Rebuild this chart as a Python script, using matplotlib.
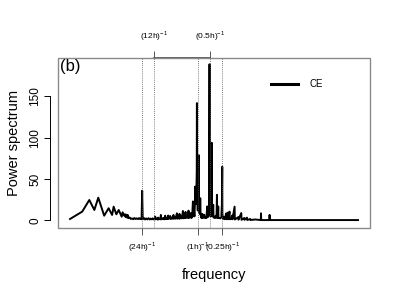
import numpy as np
import matplotlib
matplotlib.use('Agg')
import matplotlib.pyplot as plt
from matplotlib.lines import Line2D
from matplotlib.patches import Rectangle
from matplotlib.ticker import NullLocator

plt.rcParams['font.family'] = 'Liberation Sans'
plt.rcParams['mathtext.fontset'] = 'custom'
plt.rcParams['mathtext.rm'] = 'Liberation Sans'

# frequency in 1/h, power spectrum of CE
freq = [0.000683, 0.001366, 0.002049, 0.002732, 0.003415, 0.004781, 0.006148,
        0.007514, 0.008197, 0.009563, 0.010929, 0.012978, 0.013661, 0.015027,
        0.015710, 0.016393, 0.017077, 0.017760, 0.018443, 0.019126, 0.020492,
        0.021858, 0.023224, 0.025273, 0.026639, 0.028689, 0.030738, 0.032787,
        0.034836, 0.036885, 0.038934, 0.040300, 0.041667, 0.043033,
        0.046, 0.049, 0.052, 0.056, 0.060, 0.064, 0.068, 0.072, 0.076, 0.080,
        0.086, 0.0875, 0.089, 0.094, 0.099, 0.1038, 0.106, 0.112, 0.118,
        0.1211, 0.1235, 0.13, 0.136, 0.142, 0.148, 0.1548, 0.158, 0.165, 0.172,
        0.1836, 0.187, 0.195, 0.2059, 0.21, 0.22, 0.23, 0.2485, 0.253, 0.265,
        0.28, 0.3017, 0.307, 0.325, 0.34, 0.35, 0.357, 0.38, 0.40, 0.425,
        0.433, 0.46, 0.48, 0.4929, 0.50, 0.54, 0.57, 0.5847, 0.595,
        0.6443, 0.67, 0.69, 0.702, 0.72, 0.7517, 0.77, 0.80, 0.82, 0.84, 0.857,
        0.87, 0.89, 0.905, 0.92, 0.935, 0.944, 0.952, 0.96, 0.975, 0.99, 1.01,
        1.03, 1.045, 1.052, 1.06, 1.08, 1.10, 1.12, 1.14, 1.16, 1.19, 1.23,
        1.28, 1.31, 1.38, 1.43, 1.47, 1.55, 1.62, 1.70, 1.74, 1.80, 1.85, 1.90,
        1.937, 1.95, 1.98, 2.03, 2.10, 2.16, 2.196, 2.21, 2.26, 2.32, 2.39,
        2.43, 2.55, 2.68, 2.80, 2.90, 2.955, 3.0, 3.10, 3.18, 3.22, 3.40, 3.60,
        3.80, 3.92, 3.997, 4.03, 4.2, 4.48, 4.6, 5.02, 5.1, 5.53, 5.6, 6.06,
        6.15, 6.7, 7.07, 7.2, 8.07, 8.2, 9.96, 10.1, 11.82, 12.0, 14.02, 14.2,
        16.36, 16.6, 19.75, 20.0, 26.27, 36.0, 36.4, 36.8, 59.0, 59.4, 59.8,
        200.0, 9150.0]
power = [1.8, 10.7, 24.8, 12.7, 27.6, 5.8, 14.8,
         6.7, 16.7, 7.5, 12.7, 4.6, 9.9, 5.8,
         7.5, 4.0, 7.0, 3.5, 6.5, 2.8, 3.5,
         1.8, 2.5, 1.5, 3.0, 1.8, 2.6, 1.6,
         2.9, 1.7, 2.4, 1.5, 36.0, 1.5,
         3.0, 1.2, 2.5, 1.3, 2.8, 1.2, 2.2, 1.4, 2.6, 1.3,
         1.5, 4.6, 1.5, 2.4, 1.2, 3.5, 1.3, 2.2, 1.4,
         6.7, 1.4, 2.5, 1.5, 3.0, 1.4, 5.8, 1.6, 3.0, 1.6,
         6.0, 1.8, 3.0, 5.4, 1.8, 3.5, 2.0, 6.7, 2.0, 4.0,
         2.2, 8.7, 2.2, 4.5, 2.3, 8.0, 2.3, 5.0, 2.6, 11.5,
         2.6, 6.0, 2.8, 10.3, 2.8, 5.0, 3.0, 11.9, 3.0,
         4.0, 9.0, 3.0, 9.0, 4.0, 23.0, 6.0, 12.0, 5.0, 20.0, 41.0,
         25.0, 35.0, 20.0, 40.0, 60.0, 142.0, 40.0, 30.0, 20.0, 12.0, 25.0,
         15.0, 40.0, 79.0, 25.0, 10.0, 15.0, 8.0, 27.0, 10.0, 4.0, 3.0,
         8.0, 3.0, 4.0, 7.0, 3.0, 4.0, 3.0, 17.0, 4.0, 6.0, 5.0, 12.0,
         189.0, 20.0, 15.0, 8.0, 5.0, 10.0, 94.0, 12.0, 5.0, 6.0, 19.0,
         4.0, 3.0, 5.0, 3.0, 8.0, 31.0, 5.0, 3.0, 17.0, 3.0, 3.0, 2.5,
         4.0, 20.0, 65.0, 8.0, 2.0, 4.0, 1.5, 8.7, 1.5, 9.5, 1.5, 10.7,
         1.5, 2.0, 6.0, 1.5, 16.7, 1.2, 4.0, 1.0, 9.0, 0.8, 3.0, 0.8,
         3.4, 0.6, 1.8, 0.6, 1.2, 0.5, 8.7, 0.5, 0.5, 6.7, 0.5,
         0.5, 0.5]

bottom_ticks = [1 / 24, 1, 4]
bottom_labels = [r'(24h)$^{-1}$', r'(1h)$^{-1}$', r'(0.25h)$^{-1}$']
top_ticks = [1 / 12, 2]
top_labels = [r'(12h)$^{-1}$', r'(0.5h)$^{-1}$']

fig = plt.figure(figsize=(4, 3), dpi=100)
ax = fig.add_axes([0.145, 0.24, 0.78, 0.567])

ax.plot(freq, power, color='black', lw=1.4, label='CE')
ax.set_xscale('log')
ax.set_xlim(0.000344, 18150)
ax.set_ylim(-9.1, 196.7)

for f in bottom_ticks + top_ticks:
    ax.axvline(f, color='#555555', ls=(0, (1, 1.5)), lw=0.6)

# box
for s in ['top', 'right', 'bottom']:
    ax.spines[s].set_visible(False)
ax.add_patch(Rectangle((0, 0), 1, 1, transform=ax.transAxes, fill=False,
                       ec='#8a8a8a', lw=1.0, clip_on=False))

# y axis detached like R
ax.spines['left'].set_position(('outward', 6))
ax.spines['left'].set_bounds(0, 150)
ax.spines['left'].set_linewidth(0.7)
ax.set_yticks([0, 50, 100, 150])
ax.set_yticklabels(['0', '50', '100', '150'], rotation=90, va='center')
ax.tick_params(axis='y', length=4, width=0.7, labelsize=8.5, pad=2)
ax.set_ylabel('Power spectrum', fontsize=10.5, labelpad=6)

ax.xaxis.set_minor_locator(NullLocator())
ax.set_xticks(bottom_ticks)
ax.set_xticklabels(bottom_labels)
ax.tick_params(axis='x', length=5, width=0.7, color='#555555',
               labelsize=6, pad=4)
ax.set_xlabel('frequency', fontsize=10.5, labelpad=10)

sec = ax.secondary_xaxis('top')
sec.xaxis.set_minor_locator(NullLocator())
sec.set_xticks(top_ticks)
sec.set_xticklabels(top_labels)
sec.tick_params(axis='x', length=5, width=0.7, color='#555555',
                labelsize=6, pad=6)
sec.spines['top'].set_bounds(1 / 12, 2)
sec.spines['top'].set_color('#444444')
sec.spines['top'].set_linewidth(1.2)

ax.text(0.005, 0.995, '(b)', transform=ax.transAxes, fontsize=12,
        ha='left', va='top')

ax.legend(handles=[Line2D([], [], color='black', lw=2.2)], labels=['CE'],
          loc='center left', bbox_to_anchor=(0.655, 0.847), frameon=False,
          fontsize=7, handlelength=2.8, handletextpad=1.2)

fig.savefig('out.png', dpi=100)
